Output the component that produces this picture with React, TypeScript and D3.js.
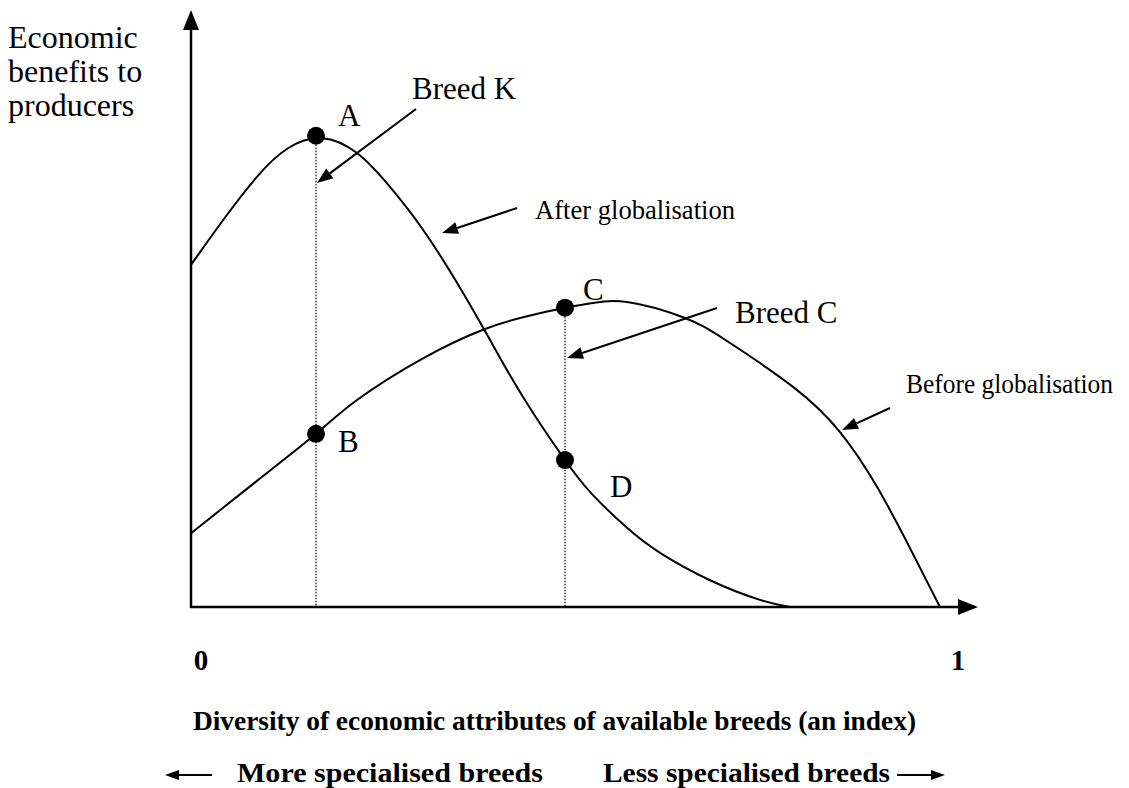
import React from "react";
import * as d3 from "d3";

// Curve data (x: diversity index 0..1, y: economic benefits, relative 0..1)
const afterX = [0, 0.0417, 0.086, 0.1265, 0.1708, 0.2164, 0.2595, 0.3025, 0.3468, 0.3898, 0.4329, 0.4876, 0.5241, 0.5685, 0.6115, 0.6767, 0.7419, 0.781];
const afterY = [0.575, 0.65, 0.723, 0.771, 0.788, 0.763, 0.706, 0.634, 0.545, 0.449, 0.353, 0.247, 0.188, 0.133, 0.091, 0.045, 0.012, 0];
const beforeX = [0, 0.086, 0.163, 0.2164, 0.3025, 0.3807, 0.4329, 0.4876, 0.5241, 0.5685, 0.6415, 0.6988, 0.7849, 0.8462, 0.8944, 0.9374, 0.9765];
const beforeY = [0.124, 0.212, 0.291, 0.348, 0.418, 0.466, 0.487, 0.503, 0.511, 0.5126, 0.487, 0.447, 0.37, 0.294, 0.202, 0.099, 0];

const pointLabels = ["A", "B", "C", "D"];
const pointX = [0.163, 0.163, 0.4876, 0.4876];
const pointY = [0.792, 0.291, 0.503, 0.247];
const tickLabels = ["0", "1"];
const tickValues = [0, 1];

const W = 1129, H = 788;
const x = d3.scaleLinear().domain([0, 1]).range([191, 958]);
const y = d3.scaleLinear().domain([0, 1]).range([607, 12]);

const line = d3.line<[number, number]>()
  .x(d => x(d[0]))
  .y(d => y(d[1]))
  .curve(d3.curveNatural);

function Arrow({ x1, y1, x2, y2, len = 16, half = 6, sw = 2 }: any) {
  const dx = x2 - x1, dy = y2 - y1;
  const L = Math.hypot(dx, dy);
  const ux = dx / L, uy = dy / L;
  const bx = x2 - ux * len, by = y2 - uy * len;
  const px = -uy * half, py = ux * half;
  return (
    <g>
      <line x1={x1} y1={y1} x2={bx} y2={by} stroke="#000" strokeWidth={sw} />
      <polygon points={`${x2},${y2} ${bx + px},${by + py} ${bx - px},${by - py}`} fill="#000" />
    </g>
  );
}

export default function App() {
  const afterPts = afterX.map((v, i) => [v, afterY[i]] as [number, number]);
  const beforePts = beforeX.map((v, i) => [v, beforeY[i]] as [number, number]);
  const serif = "'Liberation Serif', 'Times New Roman', serif";
  const labelOffsets = [[22, -10], [22, 18], [18, -8], [45, 37]];
  const tickOffsets = [10, 0];
  return (
    <svg width={W} height={H} style={{ position: "absolute", left: 0, top: 0, background: "#fff" }} fontFamily={serif}>
      <rect width={W} height={H} fill="#fff" />
      {/* axes */}
      <Arrow x1={x(0)} y1={y(0) + 1} x2={x(0)} y2={10} len={20} half={8} sw={2.5} />
      <Arrow x1={x(0) - 1} y1={y(0)} x2={978} y2={y(0)} len={20} half={8} sw={2.5} />
      {/* dotted drop lines */}
      {[0, 2].map(i => (
        <line key={i} x1={x(pointX[i])} x2={x(pointX[i])} y1={y(pointY[i])} y2={y(0)}
          stroke="#000" strokeWidth={1.2} strokeDasharray="1.5,1.5" />
      ))}
      {/* curves */}
      <path d={line(afterPts) || ""} fill="none" stroke="#000" strokeWidth={2} />
      <path d={line(beforePts) || ""} fill="none" stroke="#000" strokeWidth={2} />
      {/* points */}
      {pointLabels.map((lab, i) => (
        <g key={lab}>
          <circle cx={x(pointX[i])} cy={y(pointY[i])} r={9} fill="#000" />
          <text x={x(pointX[i]) + labelOffsets[i][0]} y={y(pointY[i]) + labelOffsets[i][1]} fontSize={31}>{lab}</text>
        </g>
      ))}
      {/* annotations */}
      <text x={412} y={99} fontSize={31}>Breed K</text>
      <Arrow x1={416} y1={109} x2={317} y2={183} />
      <text x={535} y={219} fontSize={27.5} textLength={200} lengthAdjust="spacingAndGlyphs">After globalisation</text>
      <Arrow x1={517} y1={208} x2={442} y2={233} />
      <text x={735} y={323} fontSize={31}>Breed C</text>
      <Arrow x1={717} y1={308} x2={567} y2={358} />
      <text x={906} y={393} fontSize={27} textLength={207} lengthAdjust="spacingAndGlyphs">Before globalisation</text>
      <Arrow x1={890} y1={408} x2={842} y2={430} />
      {/* y-axis title */}
      <text x={8} y={48} fontSize={32}>
        <tspan x={8} dy={0}>Economic</tspan>
        <tspan x={8} dy={34}>benefits to</tspan>
        <tspan x={8} dy={34}>producers</tspan>
      </text>
      {/* x ticks */}
      {tickLabels.map((t, i) => (
        <text key={t} x={x(tickValues[i]) + tickOffsets[i]} y={670} fontSize={29} fontWeight="bold" textAnchor="middle">{t}</text>
      ))}
      <text x={193} y={730} fontSize={28} fontWeight="bold" textLength={723} lengthAdjust="spacingAndGlyphs">Diversity of economic attributes of available breeds (an index)</text>
      <Arrow x1={212} y1={775} x2={165} y2={775} len={14} half={5} />
      <text x={237} y={782} fontSize={28} fontWeight="bold" textLength={306} lengthAdjust="spacingAndGlyphs">More specialised breeds</text>
      <text x={603} y={782} fontSize={28} fontWeight="bold" textLength={287} lengthAdjust="spacingAndGlyphs">Less specialised breeds</text>
      <Arrow x1={897} y1={775} x2={945} y2={775} len={14} half={5} />
    </svg>
  );
}
